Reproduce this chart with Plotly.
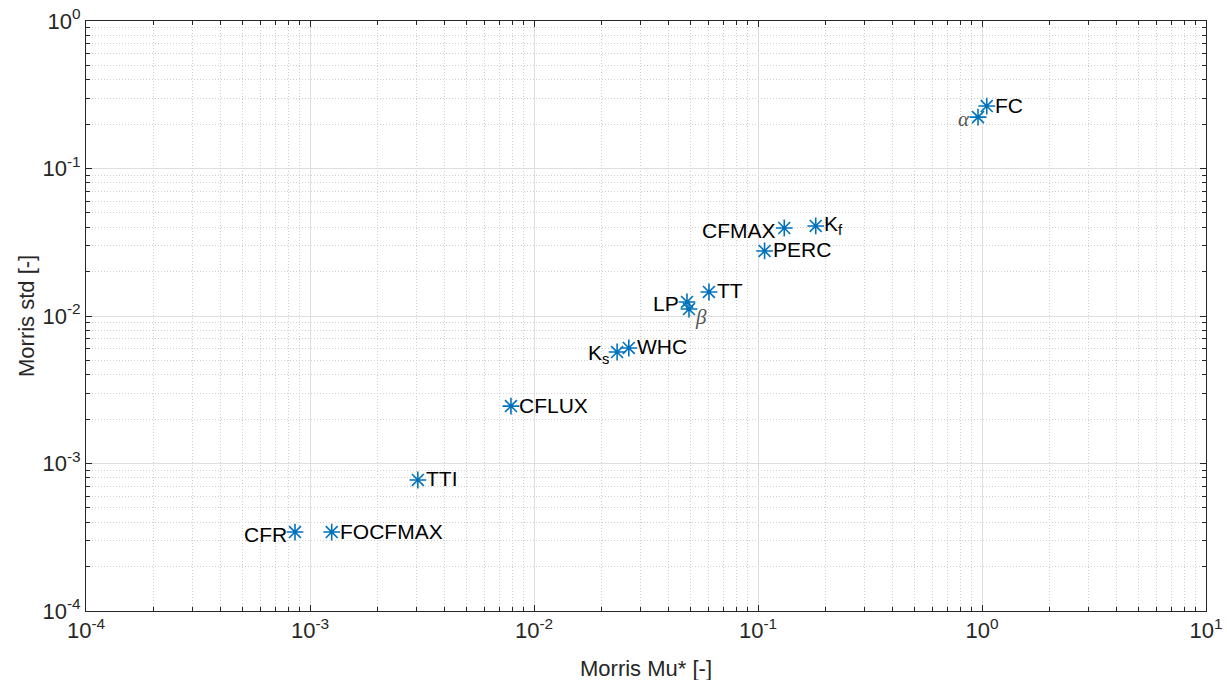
import numpy as np
import plotly.graph_objects as go

# Morris screening results per parameter
params = ["α", "FC", "CFMAX", "K<sub>f</sub>", "PERC", "LP", "β", "TT",
          "K<sub>s</sub>", "WHC", "CFLUX", "TTI", "CFR", "FOCFMAX"]
mu_star = [0.96, 1.05, 0.131, 0.181, 0.107, 0.0482, 0.0492, 0.0604,
           0.0235, 0.0265, 0.00789, 0.00303, 0.000857, 0.00125]
sigma = [0.223, 0.265, 0.0395, 0.0408, 0.0276, 0.01245, 0.01115, 0.01455,
         0.0057, 0.00607, 0.00245, 0.000773, 0.000343, 0.000343]
# label side relative to the marker
label_side = ["left", "right", "left", "right", "right", "left", "below", "right",
              "left", "right", "right", "right", "left", "right"]

x_decades = [1e-4, 1e-3, 1e-2, 1e-1, 1e0, 1e1]
x_ticktext = ["10<sup>-4</sup>", "10<sup>-3</sup>", "10<sup>-2</sup>",
              "10<sup>-1</sup>", "10<sup>0</sup>", "10<sup>1</sup>"]
y_decades = [1e-4, 1e-3, 1e-2, 1e-1, 1e0]
y_ticktext = ["10<sup>-4</sup>", "10<sup>-3</sup>", "10<sup>-2</sup>",
              "10<sup>-1</sup>", "10<sup>0</sup>"]

def minor_vals(decades):
    return [m * d for d in decades[:-1] for m in range(2, 10)]

BLUE = "#0072BD"
AXIS = "#262626"
FONT = "Liberation Sans, Arial, sans-serif"

fig = go.Figure()
fig.add_trace(go.Scatter(
    x=mu_star, y=sigma, mode="markers",
    marker=dict(symbol="asterisk-open", size=14, color=BLUE,
                line=dict(color=BLUE, width=1.6)),
    hoverinfo="skip", showlegend=False,
))

annotations = []
for name, mx, sy, side in zip(params, mu_star, sigma, label_side):
    greek = name in ("α", "β")
    font = dict(family="Liberation Serif, Times New Roman, serif" if greek else FONT,
                size=21, color="#555555" if greek else "#000000")
    if greek:
        name = "<i>" + name + "</i>"
    ann = dict(x=np.log10(mx), y=np.log10(sy), xref="x", yref="y", text=name,
               showarrow=False, font=font, yanchor="middle")
    if side == "right":
        ann.update(xanchor="left", xshift=6, yshift=1)
    elif side == "left":
        ann.update(xanchor="right", xshift=-6, yshift=-2)
    else:
        ann.update(xanchor="left", xshift=4, yshift=-8)
    annotations.append(ann)

# axis titles
title_font = dict(family=FONT, size=22, color=AXIS)
annotations.append(dict(text="Morris Mu* [-]", xref="paper", yref="paper",
                        x=0.5, y=0, yshift=-57, xanchor="center", yanchor="middle",
                        showarrow=False, font=title_font))
annotations.append(dict(text="Morris std [-]", xref="paper", yref="paper",
                        x=0, y=0.5, xshift=-60, xanchor="center", yanchor="middle",
                        textangle=-90, showarrow=False, font=title_font))

axis_common = dict(
    type="log", tickmode="array", showline=True, linecolor=AXIS, linewidth=1,
    mirror="ticks", ticks="inside", ticklen=6, tickcolor=AXIS,
    showgrid=True, gridcolor="#dedede", gridwidth=1, zeroline=False,
    automargin=False,
    tickfont=dict(family=FONT, size=22, color=AXIS),
)
minor_common = dict(ticks="inside", ticklen=4, tickcolor=AXIS, showgrid=True,
                    gridcolor="#cfcfcf", griddash="1px,2px", gridwidth=1)

fig.update_xaxes(
    **axis_common, range=[-4, 1], tickvals=x_decades, ticktext=x_ticktext,
    minor=dict(tickvals=minor_vals(x_decades), **minor_common),
)
fig.update_yaxes(
    **axis_common, range=[-4, 0], tickvals=y_decades, ticktext=y_ticktext,
    minor=dict(tickvals=minor_vals(y_decades), **minor_common),
)

fig.update_layout(
    width=1227, height=680,
    margin=dict(l=86, r=21, t=21, b=69),
    plot_bgcolor="white", paper_bgcolor="white",
    annotations=annotations,
)

fig.write_html("out.html")
